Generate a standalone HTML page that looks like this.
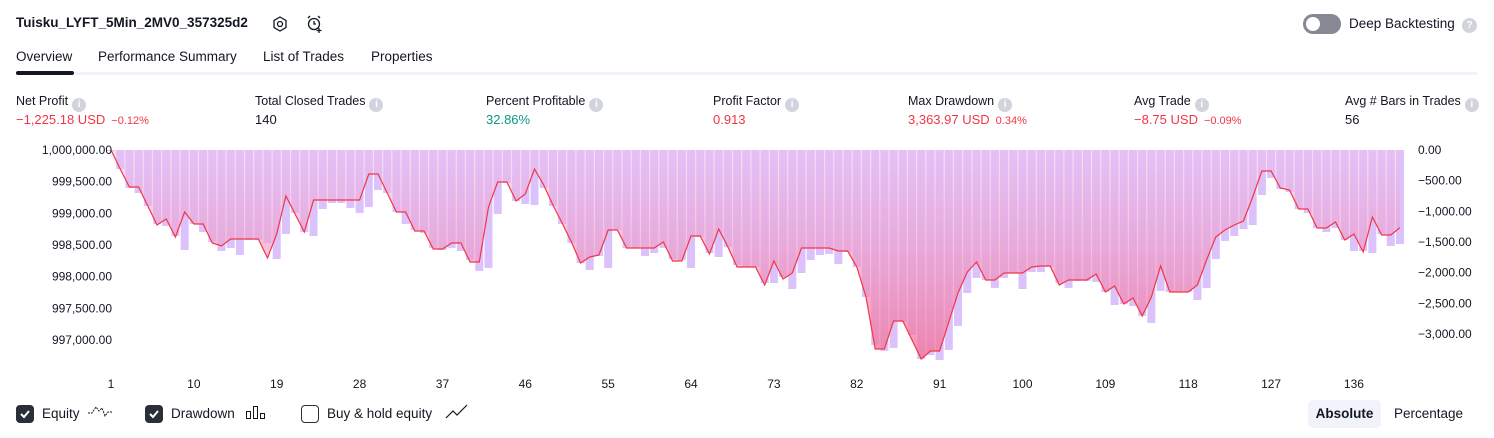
<!DOCTYPE html>
<html><head><meta charset="utf-8">
<style>
*{box-sizing:border-box;margin:0;padding:0}
body{width:1494px;height:438px;background:#fff;font-family:"Liberation Sans",sans-serif;color:#131722;position:relative;overflow:hidden;font-size:13px}
.abs{position:absolute;white-space:nowrap}
.title{left:16px;top:15px;font-weight:bold;font-size:13.5px}
.tab{top:49px;font-size:13.5px}
.lbl{top:94px;font-size:12.5px}
.val{top:112px;font-size:13px}
.red{color:#f23645}.green{color:#089981}
.small{font-size:11px;margin-left:6px}
.info{display:inline-block;width:14px;height:14px;border-radius:50%;background:#d1d4dc;color:#fff;font-size:10px;text-align:center;line-height:14px;font-weight:bold;vertical-align:-2px;margin-left:4px}
.cb{width:18px;height:18px;border-radius:4px;top:405px}
</style></head><body>
<div class="abs title">Tuisku_LYFT_5Min_2MV0_357325d2</div>
<svg class="abs" style="left:271px;top:15px" width="18" height="18"><polygon points="9,2 15,5.5 15,12.5 9,16 3,12.5 3,5.5" fill="none" stroke="#131722" stroke-width="1.3"/><circle cx="9" cy="9" r="2.5" fill="none" stroke="#131722" stroke-width="1.3"/></svg>
<svg class="abs" style="left:305px;top:14px" width="20" height="20"><circle cx="9" cy="10" r="5.5" fill="none" stroke="#131722" stroke-width="1.3"/><path d="M9 7v3h2M3 4l2-2M15 4l-2-2M14 14v5M11.5 16.5h5" stroke="#131722" stroke-width="1.3" fill="none"/></svg>
<div class="abs" style="left:1303px;top:14px;width:38px;height:20px;border-radius:10px;background:#868993"><div style="position:absolute;left:3px;top:3px;width:14px;height:14px;border-radius:50%;background:#fff"></div></div>
<div class="abs" style="left:1349px;top:16px;font-size:13.5px">Deep Backtesting</div>
<div class="abs info" style="left:1458px;top:18px;width:15px;height:15px;line-height:15px">?</div>

<div class="abs tab" style="left:16px">Overview</div>
<div class="abs tab" style="left:98px">Performance Summary</div>
<div class="abs tab" style="left:263px">List of Trades</div>
<div class="abs tab" style="left:371px">Properties</div>
<div class="abs" style="left:16px;top:72px;width:1461px;height:3px;background:#f0f3fa"></div>
<div class="abs" style="left:16px;top:71px;width:58px;height:4px;border-radius:2px;background:#131722"></div>

<div class="abs lbl" style="left:16px">Net Profit<span class="info">i</span></div>
<div class="abs val red" style="left:16px">−1,225.18 USD<span class="small">−0.12%</span></div>
<div class="abs lbl" style="left:255px">Total Closed Trades<span class="info">i</span></div>
<div class="abs val" style="left:255px">140</div>
<div class="abs lbl" style="left:486px">Percent Profitable<span class="info">i</span></div>
<div class="abs val green" style="left:486px">32.86%</div>
<div class="abs lbl" style="left:713px">Profit Factor<span class="info">i</span></div>
<div class="abs val red" style="left:713px">0.913</div>
<div class="abs lbl" style="left:908px">Max Drawdown<span class="info">i</span></div>
<div class="abs val red" style="left:908px">3,363.97 USD<span class="small">0.34%</span></div>
<div class="abs lbl" style="left:1134px">Avg Trade<span class="info">i</span></div>
<div class="abs val red" style="left:1134px">−8.75 USD<span class="small">−0.09%</span></div>
<div class="abs lbl" style="left:1345px">Avg # Bars in Trades<span class="info">i</span></div>
<div class="abs val" style="left:1345px">56</div>

<svg id="chart" class="abs" style="left:0;top:0" width="1494" height="438">
<defs><linearGradient id="ag" x1="0" y1="150" x2="0" y2="360" gradientUnits="userSpaceOnUse"><stop offset="0" stop-color="rgb(235,190,240)" stop-opacity="0.5"/><stop offset="1" stop-color="rgb(242,110,150)" stop-opacity="0.75"/></linearGradient></defs>
<g id="bars"></g><g id="area"></g><g id="axes"></g>
</svg>

<div class="abs cb" style="left:16px;background:#2a2e39"><svg width="18" height="18"><path d="M5 9l3 3 5-6" stroke="#fff" stroke-width="2" fill="none"/></svg></div>
<div class="abs" style="left:42px;top:406px;font-size:13.5px">Equity</div>
<svg class="abs" style="left:87px;top:403px" width="26" height="18"><path d="M1 10h4l4-6 3 4 3-3 3 8 3-4h4" stroke="#131722" stroke-width="1" stroke-dasharray="2,1" fill="none"/></svg>
<div class="abs cb" style="left:145px;background:#2a2e39"><svg width="18" height="18"><path d="M5 9l3 3 5-6" stroke="#fff" stroke-width="2" fill="none"/></svg></div>
<div class="abs" style="left:171px;top:406px;font-size:13.5px">Drawdown</div>
<svg class="abs" style="left:245px;top:405px" width="22" height="16"><rect x="1.5" y="6.5" width="4" height="7" fill="none" stroke="#131722"/><rect x="8.5" y="1.5" width="4" height="12" fill="none" stroke="#131722"/><rect x="15.5" y="8.5" width="4" height="5" fill="none" stroke="#131722"/></svg>
<div class="abs cb" style="left:301px;border:1.3px solid #2a2e39"></div>
<div class="abs" style="left:327px;top:406px;font-size:13.5px">Buy &amp; hold equity</div>
<svg class="abs" style="left:445px;top:404px" width="24" height="16"><path d="M1 14l7-7 4 4 10-10" stroke="#131722" stroke-width="1.2" fill="none"/></svg>
<div class="abs" style="left:1308px;top:400px;width:73px;height:28px;border-radius:5px;background:#f0f3fa;font-weight:bold;font-size:13.5px;text-align:center;line-height:28px">Absolute</div>
<div class="abs" style="left:1394px;top:406px;font-size:13.5px">Percentage</div>

<script>
const equity=[1000000,999700,999416,999416,999116,998816,998910,998626,999021,998832,998832,998532,998484,998595,998595,998595,998595,998295,998674,999274,998990,998705,999210,999210,999210,999210,999210,999210,999621,999621,999321,999021,999021,998721,998721,998437,998437,998532,998532,998232,998232,999100,999495,999495,999195,999305,999700,999447,999132,998847,998547,998216,998310,998342,998737,998737,998453,998453,998453,998453,998547,998247,998247,998642,998642,998358,998753,998468,998153,998153,998153,997868,998247,997963,998058,998453,998453,998453,998453,998405,998405,998153,997679,996858,996858,997300,997300,997000,996700,996826,996826,997284,997742,998074,998232,997947,997947,998058,998058,998058,998153,998168,998168,997868,997947,997947,997947,998042,997758,997853,997568,997663,997379,997679,998168,997758,997758,997758,997868,998263,998626,998737,998816,998879,999258,999668,999668,999400,999368,999068,999068,998768,998768,998863,998579,998674,998389,998942,998658,998658,998775];
const drawdown=[0,-310,-619,-701,-913,-1206,-1239,-1402,-1630,-1206,-1337,-1500,-1646,-1597,-1712,-1467,-1467,-1516,-1777,-1369,-1027,-1337,-1402,-962,-864,-864,-945,-1027,-929,-652,-701,-1011,-1206,-1304,-1353,-1597,-1630,-1597,-1646,-1793,-1972,-1923,-1043,-538,-831,-880,-897,-619,-913,-1206,-1516,-1842,-1956,-1728,-1923,-1304,-1597,-1597,-1728,-1679,-1597,-1777,-1793,-1923,-1418,-1679,-1744,-1581,-1875,-1907,-1907,-2168,-2168,-2070,-2266,-2005,-1793,-1712,-1695,-1858,-1663,-1907,-2396,-3179,-3276,-3227,-2804,-3016,-3407,-3342,-3423,-3260,-2869,-2331,-2086,-2119,-2249,-2086,-2005,-2266,-1989,-1989,-1907,-2168,-2249,-2135,-2135,-2152,-2315,-2527,-2510,-2543,-2706,-2820,-2298,-2315,-2315,-2315,-2445,-2249,-1777,-1483,-1402,-1288,-1223,-734,-456,-636,-685,-962,-1027,-1271,-1337,-1271,-1467,-1646,-1646,-1679,-1369,-1565,-1532];
const leftTicks=[1000000,999500,999000,998500,998000,997500,997000];
const rightTicks=[0,-500,-1000,-1500,-2000,-2500,-3000];
const xTicks=[1,10,19,28,37,46,55,64,73,82,91,100,109,118,127,136];

const NS='http://www.w3.org/2000/svg';
const xOf=i=>111+i*9.207;
const yL=v=>150+(1000000-v)*31.67/500;
const yR=v=>150-v*30.67/500;
const fmt=v=>v.toLocaleString('en-US',{minimumFractionDigits:2,maximumFractionDigits:2}).replace('-','−');
function mk(tag,attrs,parent){const e=document.createElementNS(NS,tag);for(const k in attrs)e.setAttribute(k,attrs[k]);parent.appendChild(e);return e;}
const gB=document.getElementById('bars'),gA=document.getElementById('area'),gX=document.getElementById('axes');
drawdown.forEach((d,i)=>{
  const y=yR(d);
  const r=mk('rect',{x:xOf(i)-4,y:150,width:8,height:Math.max(y-150,0.8),fill:'#dcc2fb'},gB);
  
  
});
let pts=equity.map((v,i)=>xOf(i).toFixed(1)+','+yL(v).toFixed(1));
const area=mk('path',{d:'M'+xOf(0)+',150 L'+pts.join(' L')+' L'+xOf(equity.length-1)+',150 Z',fill:'url(#ag)'},gA);


const line=mk('polyline',{points:pts.join(' '),fill:'none',stroke:'#f23645','stroke-width':1.2},gA);


leftTicks.forEach(v=>{
  const t=mk('text',{x:112,y:yL(v)+4,'text-anchor':'end','font-size':12,fill:'#131722','font-family':'Liberation Sans'},gX);
  t.textContent=fmt(v);
  
  
});
rightTicks.forEach(v=>{
  const t=mk('text',{x:1418,y:yR(v)+4,'font-size':12,fill:'#131722','font-family':'Liberation Sans'},gX);
  t.textContent=fmt(v);
  
  
});
xTicks.forEach(k=>{
  const t=mk('text',{x:xOf(k-1),y:388,'text-anchor':'middle','font-size':12,fill:'#131722','font-family':'Liberation Sans'},gX);
  t.textContent=k;
  
  
});
</script>
</body></html>
